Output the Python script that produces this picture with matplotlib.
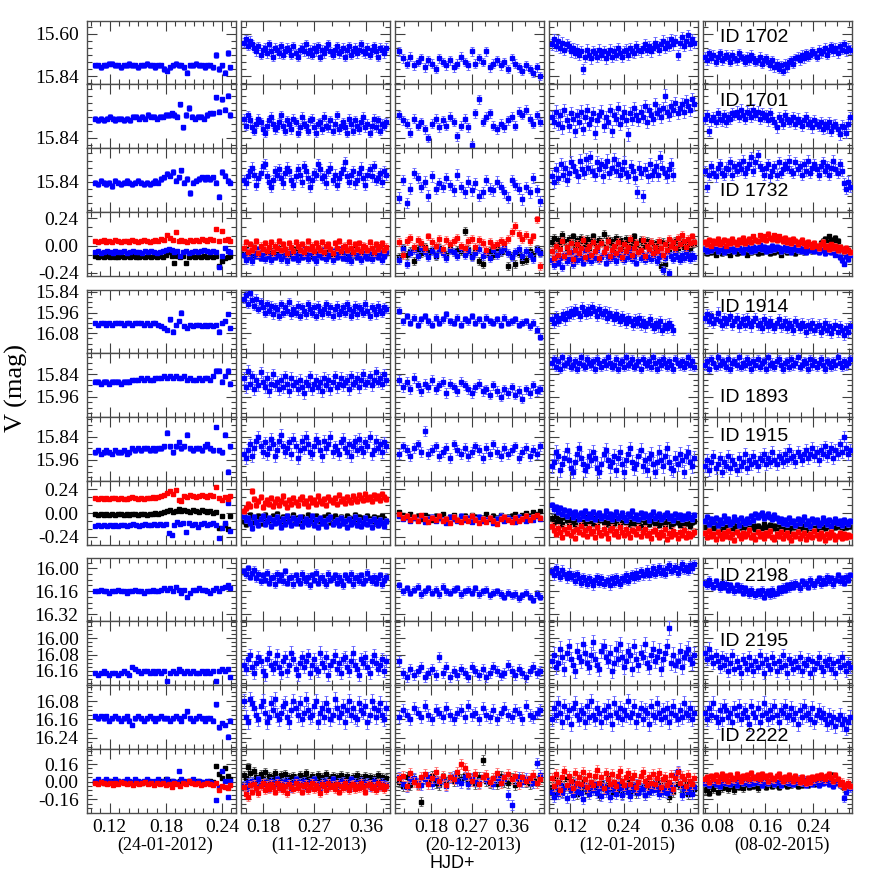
import numpy as np
import matplotlib
matplotlib.use("Agg")
import matplotlib.pyplot as plt
from matplotlib.ticker import FixedLocator, MultipleLocator, FormatStrFormatter, NullFormatter

# ---------------------------------------------------------------- data
DATES = ['(24-01-2012)', '(11-12-2013)', '(20-12-2013)', '(12-01-2015)', '(08-02-2015)']
XTICKS = [[0.12, 0.18, 0.24], [0.18, 0.27, 0.36], [0.18, 0.27, 0.36], [0.12, 0.24, 0.36], [0.08, 0.16, 0.24]]
T0 = [0.104, 0.147, 0.109, 0.080, 0.060]
T1 = [0.249, 0.395, 0.424, 0.398, 0.302]
T1_SHORT = 0.351   # night 4 ends earlier for ID 1732 / ID 1914

# light curves: base magnitude + deviations in 0.01 mag (one list per night)
ID1702_BASE = [15.78, 15.69, 15.76, 15.70, 15.73]
ID1702_ERR = [0.015, 0.025, 0.025, 0.03, 0.025]
ID1702 = [
    [0,0,1,0,0,-1,-1,0,0,1,0,0,-1,0,0,1,0,0,-1,0,0,1,0,0,2,3,1,0,-1,0,0,1,4,0,0,-1,0,0,1,0,0,1,-6,2,0,4,-7,1],
    [-4,-6,-2,-5,-3,-1,1,-2,3,0,-1,2,-3,1,4,-1,0,2,-2,3,1,-1,0,3,-2,2,4,0,-1,1,-3,2,0,3,-1,1,-2,4,0,2,-1,-3,1,3,0,-2,2,1,-1,4,0,-2,3,1,-1,2,0,-3,1,2,-1,3,0,-2,1,4,-1,0,2,-1],
    [-6,-2,1,-3,2,0,-2,3,-1,1,4,-2,0,2,-1,3,1,-3,0,2,-6,1,-2,0,-6,3,1,-1,2,0,4,-2,1,3,5,2,4,6,3,8],
    [-4,-7,-3,-6,-2,-5,-1,-4,-3,0,-2,1,-1,2,0,10,3,-1,2,4,0,1,3,-1,2,0,4,1,-1,3,0,2,-2,1,3,0,-1,2,-2,0,1,-3,-1,0,-2,-4,-1,-3,0,-2,-5,-3,-1,-4,-6,-2,-5,-3,-7,-4,-6,2,-5,-8,-3,-6,-9,-4,-7,-5],
    [0,2,-2,1,-1,3,0,-2,2,1,-1,0,3,-1,1,2,-2,0,1,3,0,2,-1,1,3,2,0,4,2,1,3,5,2,6,4,7,5,8,4,6,3,2,4,1,0,2,-1,1,-2,0,-1,-3,-2,0,-4,-2,-3,-5,-1,-4,-6,-3,-5,-2,-6,-4,-7,-3,-5,-4],
]
ID1701_BASE = [15.73, 15.76, 15.74, 15.71, 15.73]
ID1701_ERR = [0.015, 0.025, 0.025, 0.035, 0.03]
ID1701 = [
    [0,1,0,1,0,-1,0,1,0,0,1,0,1,-1,-1,0,-1,0,-2,-1,-1,0,-1,-1,-2,-2,-3,-2,-1,-8,5,-2,-6,-1,0,-1,-1,0,-2,-3,-3,-12,-4,-11,-5,-13,-2],
    [-3,1,-5,-2,2,4,0,-3,-1,3,5,1,-2,-4,0,3,2,-1,-5,1,4,-2,0,3,-3,-1,5,2,-4,0,1,4,-2,-3,2,5,0,-1,3,-4,1,2,-2,4,0,-5,3,1,-1,2,5,-3,0,4,-2,1,3,-1,-4,2,0,5,1,-3,2,-2,4,0,1,-1],
    [-3,0,2,7,-1,3,1,5,10,2,-1,4,0,3,-2,1,9,3,-1,4,14,-4,-12,1,-2,-4,3,5,2,4,0,-2,3,-5,-3,-6,-1,2,-3,1],
    [1,4,-2,5,0,7,-3,3,6,-1,2,9,0,4,-2,8,1,-3,5,2,-1,10,3,0,-2,6,1,4,-3,9,0,2,-4,5,1,-2,3,11,-1,2,-4,0,3,-2,1,-5,4,-3,0,2,-6,-1,-3,1,-4,-11,-2,0,-5,-3,-7,-1,-4,-6,-2,-8,-5,-3,-9,-6],
    [0,-2,7,1,-1,2,-3,0,1,-2,2,-1,0,-3,-2,-4,-1,-5,-2,0,-4,-3,-1,-5,-2,-4,0,-3,-1,-2,1,-3,0,2,5,-1,1,3,-2,0,2,1,-1,3,0,2,4,1,-1,3,2,5,1,3,4,2,6,3,5,2,7,4,3,6,9,4,5,8,3,-1],
]
ID1732_BASE = [15.845, 15.80, 15.85, 15.76, 15.77]
ID1732_ERR = [0.015, 0.03, 0.03, 0.035, 0.03]
ID1732 = [
    [0,1,-1,0,1,0,2,-1,0,1,0,-1,0,1,0,-1,0,1,0,1,0,-1,0,-2,-3,-5,-4,-6,-1,-3,-7,0,-2,6,0,-1,-2,-3,-2,-3,-2,-3,0,8,-6,-4,-1,0],
    [3,5,1,-2,-4,0,6,2,-1,-5,-6,1,4,7,3,-2,0,-3,2,5,-1,-4,-2,3,6,1,-3,0,4,-5,-2,2,7,3,-1,0,-6,-3,2,1,5,-2,-4,3,0,6,2,-1,-3,-7,1,4,0,-2,5,3,-1,-4,2,6,0,-3,1,-5,3,2,-1,4,-2,0],
    [8,-2,11,3,-6,-3,2,-1,7,-4,3,0,2,-3,1,4,-5,2,5,-1,4,0,7,5,-2,3,4,-1,2,5,8,-2,1,3,9,2,5,-3,4,10],
    [5,8,1,6,-2,4,0,7,3,-3,-1,2,5,-4,1,3,-5,0,-6,2,4,-3,1,-2,5,-1,-4,3,0,-5,2,-2,4,1,-3,3,5,-1,2,6,14,0,3,16,1,5,-2,4,2,-1,4,-6,0,3,5,1,-2,4],
    [1,10,3,-2,2,4,-1,-3,2,3,-1,0,-4,3,-2,1,-3,0,-5,2,-1,-3,-7,1,-4,-8,-2,0,3,-1,-3,4,1,-2,3,-4,2,0,-3,-1,-5,1,2,-4,0,-2,3,-3,1,-5,2,-1,-3,0,3,-2,-4,1,-2,3,-1,-5,0,2,-3,1,8,11,7,10],
]
ID1914_BASE = [16.02, 15.94, 16.00, 16.00, 16.02]
ID1914_ERR = [0.012, 0.025, 0.02, 0.03, 0.03]
ID1914 = [
    [0,1,0,0,1,0,1,0,0,0,1,0,0,1,0,0,0,1,0,1,0,0,1,2,3,4,-2,5,1,-1,-6,2,3,1,2,1,1,2,1,2,1,2,1,5,0,-1,-5,3],
    [-6,-8,-3,-9,-5,-2,-6,0,-4,-1,2,-3,1,-2,3,-1,0,4,-3,2,-1,1,-4,3,0,2,-2,4,-1,1,3,-3,0,2,-1,4,-2,1,3,0,-3,2,-1,4,0,-2,3,1,-1,2,-3,0,4,1,-2,3,-1,0,2,-3,1,4,-1,0,3,-2,1,2,-1,0],
    [-5,1,-2,2,-1,3,0,-2,1,3,-1,2,0,-3,1,2,-1,3,0,1,-2,2,0,3,-1,1,2,0,3,-1,2,1,0,3,2,1,4,2,6,10],
    [0,2,-2,1,-1,-3,0,-4,-2,-5,-3,-6,-4,-2,-7,-5,-3,-6,-4,-7,-5,-2,-6,-4,-3,-5,-1,-4,-2,0,-3,-1,1,-2,0,2,-1,1,3,0,2,-1,3,1,4,2,0,3,5,2,4,1,6,3,5,2,4,6],
    [-3,-5,-1,-4,0,-2,-6,-1,1,-3,0,-2,-4,1,-1,-3,2,0,-2,1,-3,0,2,-1,-3,1,0,3,-2,0,2,-1,1,3,0,-2,2,1,-1,3,0,2,4,-1,1,3,0,2,5,1,3,0,4,2,1,5,3,0,4,2,6,3,1,5,2,4,7,3,5,2],
]
ID1893_BASE = [15.88, 15.88, 15.90, 15.78, 15.78]
ID1893_ERR = [0.012, 0.03, 0.025, 0.025, 0.025]
ID1893 = [
    [0,0,1,0,0,1,0,0,0,1,0,0,0,-1,-1,-1,-2,-1,-2,-1,-1,-2,-2,-2,-3,-2,-3,-2,-3,-2,-2,-3,-1,-2,-1,-1,-2,-1,-2,-2,-1,-3,-6,-6,0,-3,-6,1],
    [-2,3,-6,1,-3,4,-1,2,-5,0,3,-2,5,1,-4,2,0,4,-1,3,-3,1,5,-2,2,0,4,-1,3,6,0,2,-3,4,1,-1,3,0,5,-2,2,-1,4,0,-3,3,1,-2,2,0,-1,4,-3,1,0,-2,3,-1,-4,1,0,-3,2,-1,-5,0,-2,1,-4,-1],
    [-3,1,-2,2,-4,0,3,-1,1,-3,2,0,-2,4,-1,1,3,-2,0,2,4,1,-1,3,2,5,0,3,6,2,4,1,5,3,7,2,4,0,3,2],
    [0,-2,2,-1,3,-3,1,0,-2,2,1,-1,3,0,-3,1,2,-2,0,1,-1,3,-2,0,2,-1,1,-3,0,2,1,-2,3,0,-1,2,-3,1,0,-2,2,1,-1,3,-2,0,1,-1,2,-3,0,3,-1,1,-2,0,2,-1,1,3,-2,0,1,-1,2,0,-3,1,-1,2],
    [1,-1,3,-2,0,2,-3,1,-1,0,2,-2,3,0,-1,1,-3,2,0,1,-2,0,3,-1,1,-2,2,0,-1,3,-3,1,0,2,-1,-2,1,3,0,-1,2,-2,1,0,-3,2,1,-1,0,3,-2,1,-1,2,0,-2,1,3,-1,0,2,-1,1,-3,0,2,-1,1,0,-2],
]
ID1915_BASE = [15.91, 15.89, 15.91, 15.96, 15.96]
ID1915_ERR = [0.012, 0.03, 0.025, 0.035, 0.03]
ID1915 = [
    [1,0,2,1,0,1,2,0,1,1,0,2,1,-1,0,-1,0,-1,-1,0,-1,0,-1,-1,-2,-9,-2,1,-2,-4,-1,-2,-8,-1,0,-1,-1,0,-2,-3,-1,0,-12,0,1,-8,11,-2],
    [4,6,2,-1,5,1,-3,-5,0,3,-2,4,1,-4,-1,5,2,-3,-6,0,3,1,-2,4,-4,0,6,2,-3,1,-5,-1,3,4,0,-4,-2,2,5,-3,1,-1,-5,3,0,2,4,-2,-4,1,3,-1,5,0,-3,2,-4,1,3,-2,0,-5,4,2,-3,1,-1,3,-2,0],
    [2,-2,0,3,-1,-3,1,-10,2,0,-2,3,1,-1,4,-3,0,2,-1,3,1,-2,0,4,-1,2,-3,1,3,-1,2,0,-2,4,1,-1,3,0,2,-2],
    [3,1,-4,-2,5,2,-1,-5,0,4,6,1,-3,-6,-1,2,5,3,-2,0,-4,-1,4,6,2,-3,-5,0,3,1,-2,5,-1,-4,2,6,0,-3,-6,1,4,2,-2,-5,3,0,5,-1,-3,2,6,1,-4,0,3,-2,-6,1,4,5,-1,2,-3,0,6,-2,-4,1,3,-1],
    [3,0,5,1,-2,4,2,-1,6,1,3,-2,4,0,2,5,-1,3,1,-3,4,0,2,-2,1,3,-1,0,-3,2,-1,1,-4,0,2,-2,-1,1,-3,0,-5,-1,-2,1,-4,-2,0,-3,-5,-1,-3,-6,-2,-4,0,-5,-3,-7,-2,-4,-6,-1,-5,-3,-8,-4,-12,-6,-3,-5],
]
ID2198_BASE = [16.16, 16.07, 16.15, 16.06, 16.13]
ID2198_ERR = [0.012, 0.025, 0.025, 0.03, 0.025]
ID2198 = [
    [0,0,-1,0,0,1,0,0,-1,0,0,1,0,0,-1,0,0,1,0,0,-1,0,0,-1,-2,-1,-2,0,-3,-1,1,-1,4,1,-1,-1,-2,-1,-1,0,1,-1,-2,0,-2,-3,-4,-2],
    [-5,-3,-7,-1,-4,-6,0,-3,2,-2,1,-4,3,0,-1,4,-3,1,-2,2,-5,3,0,-1,4,-2,1,3,-3,0,2,-1,5,-2,1,-4,3,0,-1,2,4,-3,1,0,-2,3,-1,2,5,-2,0,1,-3,4,0,-1,2,-2,3,1,-4,0,2,-1,3,0,-2,4,1,-1],
    [-3,1,-1,2,0,-2,3,1,-1,2,0,3,-2,1,2,0,-1,3,1,0,2,-1,3,1,0,4,2,1,3,5,2,4,3,6,4,2,5,7,3,5],
    [-4,-1,-6,-3,0,-5,-2,1,-3,0,-1,3,-2,1,4,0,2,5,1,3,6,2,0,4,1,5,3,2,6,1,4,0,3,5,1,2,-1,3,0,-2,1,-3,0,-4,-1,-2,-5,-1,-3,-6,-2,-4,-7,-3,-5,-2,-6,-8,-4,-5,-7,-3,-6,-9,-5,-7,-4,-8,-6,-9],
    [-3,-1,-5,-2,0,-4,-1,1,-3,0,-2,2,-1,1,3,-1,2,0,4,1,3,5,2,4,6,3,5,2,7,4,3,6,2,5,4,1,3,0,2,-1,1,-2,0,-3,-1,1,-4,-2,-3,0,-5,-3,-1,-4,-6,-2,-5,-3,-7,-4,-6,-2,-5,-8,-4,-6,-3,-7,-5,-8],
]
ID2195_BASE = [16.17, 16.12, 16.16, 16.09, 16.12]
ID2195_ERR = [0.01, 0.03, 0.025, 0.035, 0.03]
ID2195 = [
    [0,1,0,-1,0,1,0,0,1,0,-1,0,1,-3,-2,-1,0,-1,-1,0,-1,0,-1,0,-1,4,0,-1,0,-2,-1,0,-1,0,-1,0,0,-1,0,-1,0,-1,4,-1,-2,-1,-2,2],
    [1,3,-2,-4,2,5,0,-3,-1,4,6,-2,-5,1,3,0,-4,2,5,-1,-3,4,1,-5,-2,3,6,0,-3,2,-1,-4,5,1,-2,3,4,-5,0,2,-3,6,1,-1,-4,3,0,5,-2,-3,2,4,-1,-5,1,3,6,-2,0,-3,2,5,-1,-4,0,3,1,-2,4,-1],
    [-5,1,3,-1,2,0,-2,3,1,-1,2,-7,1,-2,3,0,2,-1,1,3,-2,0,2,-1,3,1,-2,0,2,1,-3,0,2,-1,1,3,0,-2,1,0],
    [2,-1,5,3,-4,0,6,-2,-5,1,4,7,-3,0,2,-6,-2,3,5,-1,-7,1,4,6,-3,-5,0,2,-2,7,3,-4,1,-6,0,5,2,-3,-1,6,-5,1,4,-2,0,-6,3,5,-1,-4,2,0,-3,6,1,-2,-5,-14,3,-1,4,2,-3,5,0,-2,-4,1,3,-1],
    [-5,-2,-7,-3,0,-4,-1,2,-3,1,-2,4,0,-4,3,-1,2,5,-2,0,3,-3,1,4,-1,2,-4,0,5,-2,1,3,-3,0,4,-1,2,-4,1,5,-2,0,3,-1,2,-3,4,0,1,-2,5,-1,3,0,-3,2,4,-1,1,-2,3,0,5,-1,2,-3,1,4,0,2],
]
ID2222_BASE = [16.155, 16.12, 16.13, 16.13, 16.13]
ID2222_ERR = [0.01, 0.03, 0.025, 0.03, 0.03]
ID2222 = [
    [-1,0,-1,0,-1,1,0,-1,0,1,0,-1,1,3,0,-1,0,1,0,-1,0,1,0,-1,0,0,1,0,-1,0,1,-1,-3,0,1,0,-1,0,1,0,0,1,-6,4,2,3,8,1],
    [-4,3,5,-5,-3,-1,2,4,-2,-4,1,5,3,-3,0,-5,2,4,1,-2,-3,3,5,0,-4,-1,2,-3,4,1,-5,0,3,2,-2,-4,5,1,-1,3,-3,0,4,2,-5,-1,3,1,-2,5,0,-4,2,-1,3,4,-3,0,1,-2,5,2,-4,-1,3,0,-3,2,4,-1],
    [2,-1,1,3,-2,0,2,-3,1,3,-1,0,2,-2,1,3,0,-1,2,-3,1,0,3,-2,1,2,-1,3,0,-2,1,2,-1,0,3,-3,1,2,0,-1],
    [3,-2,1,-4,0,4,-3,2,-1,5,-2,-4,1,3,-1,0,4,-3,2,-5,1,3,-2,0,4,-1,2,-3,1,5,-4,0,2,-2,3,-1,1,-5,2,0,-3,4,1,-2,3,-1,0,5,-3,1,2,-4,0,3,-1,2,-2,4,0,-3,1,3,-1,2,-4,0,1,-2,3,0],
    [0,3,-2,1,-4,2,4,-1,3,-3,-1,2,0,4,-2,1,-3,3,0,-1,2,5,-3,0,2,-2,4,1,-4,0,3,-1,2,-3,1,4,-1,0,-3,2,1,-2,3,0,5,-1,2,-3,1,0,3,-2,4,1,-1,2,0,3,5,1,4,2,6,3,1,5,3,7,4,2],
]

# differential curves (0.01 mag units): red, blue, black per night
DIFF1_RED = [
    [4,3,4,5,3,4,3,5,4,3,4,4,3,5,4,3,4,5,4,3,4,5,4,6,5,9,7,5,12,4,5,4,3,5,4,5,4,6,5,4,6,5,15,4,13,5,6,4],
    [-2,3,-6,1,-4,-1,4,-7,0,-3,2,-5,-1,3,-6,0,-2,4,-4,1,-3,-7,2,-1,-5,3,0,-4,1,-6,-2,4,-3,0,-5,2,-1,-4,3,-6,0,1,-3,-7,2,-2,4,-5,-1,0,-4,3,-2,-6,1,-3,2,-5,0,-1,-4,3,-2,-6,1,-3,0,2,-4,-1],
    [3,-8,4,7,-1,5,2,-2,8,3,0,6,-3,5,1,4,7,0,-2,4,6,-1,5,2,-4,3,0,1,4,2,6,12,17,10,6,9,4,8,23,-18],
    [-5,-11,0,-8,-3,4,-9,-1,-6,2,-12,-4,1,-7,-2,5,-10,-3,0,-8,3,-5,-1,-11,2,-6,-2,4,-9,-4,0,-7,3,-3,-10,1,-5,-1,6,-8,-2,2,-6,-4,5,-9,0,-3,3,-7,-1,-5,4,-2,-8,1,-4,6,0,3,-2,7,1,9,4,-1,6,2,8,3],
    [3,1,5,0,4,2,6,1,3,5,0,4,2,6,3,1,5,3,7,2,4,6,3,8,5,4,9,6,8,5,10,7,6,9,5,8,6,4,7,3,5,2,6,4,1,3,5,2,0,3,1,-1,2,0,-2,1,3,-1,0,-3,1,-2,0,-4,-1,-3,-5,-2,-4,-6],
]
DIFF1_BLUE = [
    [-6,-5,-7,-6,-5,-6,-7,-5,-6,-6,-5,-7,-6,-5,-6,-6,-7,-5,-6,-5,-6,-7,-6,-5,-4,-3,-4,-6,-5,-9,-6,-5,-7,-6,-5,-6,-5,-4,-5,-6,-5,-6,-19,-9,-2,-5,-6],
    [-8,-13,-5,-10,-14,-6,-9,-3,-11,-7,-12,-4,-9,-13,-6,-10,-2,-8,-12,-5,-9,-14,-7,-4,-11,-8,-13,-6,-10,-3,-9,-12,-7,-5,-11,-14,-8,-6,-10,-4,-12,-9,-7,-13,-5,-10,-8,-3,-11,-6,-12,-9,-14,-7,-5,-10,-8,-13,-4,-9,-11,-6,-12,-8,-5,-10,-7,-13,-9,-6],
    [-13,-3,-16,-7,-4,-9,-2,-6,-10,-5,-8,-3,-7,-11,-4,-6,-9,-2,-8,-5,-10,-7,-3,-9,-6,-11,-4,-8,-5,-2,-7,-10,-6,-3,-9,-5,-8,-12,-4,-7],
    [-13,-17,-9,-15,-11,-19,-8,-14,-12,-6,-16,-10,-13,-7,-11,-15,-5,-12,-9,-14,-8,-11,-4,-13,-10,-7,-15,-9,-12,-6,-10,-14,-8,-5,-11,-13,-7,-10,-4,-12,-9,-15,-6,-11,-8,-13,-10,-5,-12,-9,-7,-14,-10,-8,-22,-11,-6,-24,-9,-12,-7,-10,-13,-8,-11,-6,-9,-12,-8,-10],
    [-3,-5,-1,-4,-2,0,-5,-3,-1,-6,-2,-4,0,-3,-5,-1,-2,-4,-6,-2,0,-3,-5,-1,-4,-2,1,-3,-1,-5,-2,-4,0,-3,-1,-2,-5,-3,-1,-4,-2,-6,-3,-1,-4,-2,-5,-3,-6,-2,-4,-1,-5,-3,-6,-4,-2,-7,-5,-3,-6,-4,-8,-5,-10,-13,-16,-9,-12,-8],
]
DIFF1_BLACK = [
    [-9,-10,-9,-10,-9,-10,-9,-10,-10,-9,-10,-9,-10,-9,-10,-10,-9,-10,-9,-10,-9,-10,-9,-10,-8,-6,-9,-15,-9,-10,-9,-15,-10,-9,-10,-9,-10,-9,-10,-9,-10,-9,-18,-14,-11,-10,-9],
    [-7,-3,-10,-5,-8,-2,-9,-6,-11,-4,-7,-9,-3,-8,-5,-10,-6,-2,-9,-7,-4,-11,-6,-8,-3,-9,-5,-7,-10,-4,-8,-6,-2,-9,-5,-11,-7,-3,-8,-6,-10,-4,-7,-9,-5,-3,-8,-6,-11,-7,-4,-9,-5,-8,-2,-10,-6,-7,-3,-9,-5,-8,-11,-4,-6,-9,-3,-7,-8,-5],
    [-10,-2,-8,-5,-14,-3,-7,-1,-6,-4,-9,-2,-5,-8,-3,-6,-4,-5,13,-3,-9,-4,-14,-16,-7,-5,-8,-2,-6,-4,-18,-9,-16,-7,-14,-13,-5,-8,-3,-6],
    [3,7,-1,5,1,9,4,-2,6,2,8,0,5,-1,7,3,1,6,-2,4,8,2,-1,5,3,10,0,6,2,4,-2,7,1,5,3,-1,6,2,0,4,8,1,-3,5,2,0,4,-2,3,1,-4,2,0,-18,3,-16,1,-3,2,0,4,-2,1,3,-1,2,0,-3,1,2],
    [-5,-7,-3,-6,-4,-8,-5,-2,-7,-4,-6,-3,-8,-5,-4,-7,-2,-6,-5,-3,-8,-4,-6,-2,-5,-7,-3,-6,-4,-5,-2,-7,-4,-6,-3,-5,-8,-4,-2,-6,-3,-5,-4,-7,-2,-5,-3,-6,-1,-4,-2,-5,-3,0,-2,2,4,6,3,8,5,2,7,4,-1,-3,-6,-8,-5,-7],
]
DIFF2_RED = [
    [15,14,15,14,15,14,15,15,14,15,14,14,15,16,15,14,15,14,15,15,16,15,16,17,18,20,22,19,23,13,12,17,16,18,17,16,17,18,17,16,18,17,26,15,13,16,14,17],
    [2,5,9,7,22,14,8,12,16,6,10,13,9,15,7,11,14,8,12,17,10,6,13,9,15,11,8,14,16,10,12,7,15,11,13,9,17,12,10,14,8,16,13,11,15,9,18,12,14,10,16,13,11,17,14,12,18,15,13,19,14,16,12,18,15,17,13,19,16,14],
    [-1,-5,-3,-7,-4,-8,-2,-6,-9,-5,-7,-3,-8,-6,-10,-4,-7,-9,-5,-8,-3,-7,-10,-6,-9,-5,-8,-11,-6,-4,-7,-9,-5,-8,-6,-3,-7,-4,-2,-5],
    [-13,-17,-21,-15,-19,-24,-16,-20,-14,-22,-18,-25,-16,-19,-13,-21,-17,-23,-15,-20,-18,-24,-14,-19,-22,-16,-20,-25,-17,-15,-21,-18,-23,-14,-19,-22,-16,-20,-24,-17,-18,-21,-15,-23,-19,-16,-22,-20,-25,-18,-17,-21,-24,-19,-22,-16,-26,-20,-23,-18,-21,-25,-19,-22,-17,-24,-20,-23,-21,-19],
    [-20,-24,-18,-23,-21,-26,-19,-22,-25,-20,-23,-18,-24,-21,-27,-19,-22,-25,-20,-23,-21,-17,-24,-22,-26,-19,-23,-21,-25,-20,-22,-18,-24,-26,-21,-23,-19,-25,-22,-20,-24,-27,-21,-23,-19,-25,-22,-20,-26,-23,-21,-24,-18,-22,-25,-20,-23,-27,-21,-24,-19,-22,-26,-23,-20,-25,-21,-24,-22,-23],
]
DIFF2_BLUE = [
    [-13,-12,-13,-12,-13,-12,-13,-12,-13,-12,-12,-13,-12,-11,-12,-13,-12,-11,-12,-12,-11,-12,-11,-12,-11,-20,-22,-12,-9,-11,-10,-19,-10,-12,-11,-14,-11,-10,-12,-11,-10,-12,-25,-15,-10,10,-18],
    [-3,-7,-5,-10,-15,-4,-9,-12,-6,-3,-11,-8,-5,-13,-7,-10,-4,-9,-14,-6,-11,-3,-8,-12,-5,-10,-7,-4,-13,-9,-6,-11,-8,-3,-12,-7,-14,-5,-10,-8,-13,-6,-4,-11,-9,-7,-12,-5,-10,-8,-14,-6,-11,-9,-4,-12,-7,-13,-10,-5,-11,-8,-14,-6,-9,-12,-7,-10,-13,-8],
    [-3,-6,-4,-8,-5,-7,-3,-9,-6,-4,-8,-5,-7,-10,-4,-6,-8,-3,-7,-5,-9,-6,-4,-8,-7,-5,-10,-6,-3,-8,-5,-7,-9,-4,-6,-8,-5,-7,-3,-6],
    [8,4,6,1,5,-1,3,-3,2,0,-4,1,-2,-6,0,-3,2,-5,-1,-4,1,-6,-2,0,-5,-3,2,-4,-1,-6,-2,1,-5,-3,0,-4,-7,-1,-3,2,-5,-2,-6,0,-4,-1,-3,-7,-2,1,-5,-3,-1,-6,-4,-2,0,-5,-3,-7,-1,-4,-2,-6,-3,-5,-1,-4,-6,-2],
    [-8,-4,-11,-6,-9,-5,-12,-7,-10,-3,-8,-6,-11,-9,-4,-7,-12,-5,-8,-10,-6,-9,-3,-7,-1,-4,-2,0,-5,-3,-1,-4,-6,-2,-5,-8,-6,-10,-7,-11,-5,-9,-8,-12,-6,-10,-7,-4,-11,-8,-13,-6,-9,-7,-12,-10,-5,-8,-11,-7,-13,-9,-6,-10,-8,-12,-7,-9,-11,-8],
]
DIFF2_BLACK = [
    [-1,-2,-1,-2,-1,-2,-1,-2,-1,-1,-2,-1,-2,-1,-1,-2,-1,-1,-2,-1,-1,0,-1,0,1,2,3,1,2,4,2,3,2,1,3,2,1,3,2,1,2,0,1,-15,-3,-12,-16,-3],
    [-8,-11,-5,-2,-9,-4,-7,-3,-10,-6,-2,-8,-5,-9,-3,-7,-1,-6,-10,-4,-8,-3,-6,-9,-2,-7,-5,-10,-4,-8,-6,-2,-9,-5,-7,-3,-8,-6,-10,-4,-7,-2,-9,-5,-3,-8,-6,-4,-10,-7,-3,-5,-9,-6,-2,-8,-4,-7,-5,-9,-3,-6,-8,-4,-10,-5,-7,-3,-6,-8],
    [1,-2,-4,-1,-5,-3,-6,-2,-4,-7,-3,-5,-1,-6,-4,-2,-7,-5,-3,-6,-2,-4,-7,-5,-1,-6,-3,-5,-2,-7,-4,-3,-1,-5,-2,0,-3,1,-1,2],
    [-5,-9,-3,-8,-6,-11,-4,-7,-10,-5,-8,-12,-6,-3,-9,-7,-11,-4,-8,-6,-10,-5,-13,-7,-4,-9,-6,-11,-8,-3,-10,-7,-5,-12,-8,-6,-9,-4,-11,-7,-10,-5,-8,-13,-6,-9,-7,-11,-4,-8,-10,-6,-12,-9,-5,-11,-8,-7,-13,-10,-6,-9,-12,-8,-11,-7,-10,-13,-9,-8],
    [-14,-11,-17,-13,-15,-10,-16,-12,-18,-14,-11,-15,-13,-17,-12,-16,-14,-10,-15,-13,-11,-17,-14,-12,-16,-13,-18,-15,-11,-14,-16,-12,-15,-13,-17,-11,-14,-16,-12,-15,-18,-13,-14,-11,-16,-13,-15,-12,-17,-14,-11,-15,-13,-16,-12,-14,-10,-15,-13,-11,-16,-12,-14,-13,-10,-15,-12,-14,-11,-13],
]
DIFF3_RED = [
    [-1,-2,0,-1,-2,-1,-3,-1,-2,0,-1,-2,-1,-3,-1,-2,-1,0,-2,-1,-3,-1,-2,-1,-3,-2,-5,-1,-2,-4,-1,-2,1,-1,-2,-1,-3,-2,-1,-2,-3,-1,-8,-4,-5,-6,-3],
    [-5,-11,-14,-3,-9,-2,-6,-10,-4,-1,-8,-3,-7,-2,-5,-9,-1,-6,-3,-8,-4,-10,-2,-5,-7,-1,-6,-3,-9,-4,-2,-8,-5,-1,-7,-3,-6,-10,-2,-4,-8,-1,-5,-3,-7,-2,-9,-4,-6,-1,-5,-8,-3,-2,-7,-4,-6,-1,-5,-9,-3,-2,-6,-4,-8,-1,-5,-3,-7,-4],
    [3,5,-4,8,0,-3,4,7,-2,3,9,1,5,-3,4,2,9,16,12,6,1,7,-2,4,6,0,3,8,-1,4,7,2,5,-2,4,1,3,6,-1,2],
    [3,-4,7,0,-8,4,10,-3,5,1,-6,8,-1,4,-2,9,2,-5,6,0,-3,5,11,-1,4,-6,8,2,-2,7,0,-4,5,10,1,-3,4,8,-2,3,6,-5,0,5,9,1,-3,4,-1,7,-2,3,8,-5,2,4,-3,0,6,-7,3,9,-1,5,2,-4,6,1,-2,3],
    [2,4,0,5,2,6,1,4,7,2,5,1,6,3,2,7,4,1,5,3,6,2,8,4,3,6,2,7,4,5,1,6,3,2,5,7,3,1,4,2,6,3,1,5,2,0,4,1,-1,3,0,4,2,5,3,6,4,2,5,7,3,1,6,2,-2,0,-5,-3,-1,-4],
]
DIFF3_BLUE = [
    [1,2,0,1,2,1,0,2,1,0,1,2,1,0,2,1,0,1,2,1,0,1,2,0,1,2,-1,1,0,10,2,1,0,1,2,0,1,0,-1,1,0,-1,-17,-5,10,1,-14,1],
    [-3,-7,0,-4,1,-2,-5,2,-1,-4,0,-3,-6,1,-2,-4,2,-1,-5,0,-3,1,-2,-6,-1,2,-4,0,-3,1,-5,-2,0,-4,2,-1,-3,-6,0,-2,1,-4,-1,2,-3,-5,0,-2,1,-4,-1,-3,2,-5,0,-2,-4,1,-1,-3,0,-5,-2,1,-3,-1,-4,0,-2,-3],
    [4,-2,-5,2,3,-1,-3,2,4,-2,3,0,2,-4,3,5,1,-1,4,-2,3,1,-1,4,2,0,-2,3,1,2,-12,-21,2,4,0,3,1,-1,17,6],
    [-9,-14,-5,-11,-3,-10,-6,-15,-4,-8,-12,-2,-9,-5,-10,-16,-3,-7,-11,-4,-8,-1,-10,-6,-13,-3,-9,-7,-14,-4,-8,-11,-2,-6,-12,-7,-3,-9,-13,-5,-8,-2,-10,-6,-7,-12,-3,-9,-5,-8,-1,-7,-11,-4,-9,-6,-10,-3,-8,-5,6,10,-2,-12,-7,-4,-9,-6,-11,-5],
    [-1,2,-3,0,3,-2,1,-4,0,2,-1,3,-2,0,1,-3,2,1,-1,3,0,-2,2,-1,4,0,1,-3,2,0,-1,3,1,-2,0,2,-3,1,3,0,-1,2,-2,1,0,3,-1,2,-3,0,1,-2,2,0,-3,1,-1,2,0,-2,1,-4,-1,0,-3,-2,-15,-9,-4,-6],
]
DIFF3_BLACK = [
    [0,1,0,-1,0,1,0,-1,1,0,0,1,-1,0,1,0,-1,0,1,0,-1,0,1,0,2,0,1,-1,0,1,0,-1,1,0,-1,1,0,-1,0,1,0,14,7,3,12,5,2],
    [6,3,13,8,1,10,4,0,7,2,9,-1,5,1,4,8,0,3,6,-1,7,2,4,0,5,3,-2,6,1,4,8,2,-1,5,3,0,6,2,4,-1,7,1,3,5,-2,4,2,6,0,3,5,1,-1,4,2,6,0,3,1,5,-2,4,2,3,0,6,1,4,2,3],
    [0,-4,4,-3,2,-2,-18,3,1,5,-1,-3,3,0,4,1,5,2,6,-1,2,-2,4,20,1,-1,3,-2,5,0,-1,3,-3,2,4,0,-2,3,1,2],
    [-5,-11,3,-7,-1,-9,-4,2,-6,-8,0,-5,-11,-2,-7,1,-4,-9,-6,0,-8,-2,-5,-12,-1,-7,-3,3,-6,-10,0,-4,-8,-1,-11,-3,-6,2,-9,-2,-5,-10,0,-7,-4,-12,-1,-6,-8,-2,-5,1,-7,-3,-9,0,-6,-14,-3,-9,6,-2,-5,-4,-8,-2,-11,-6,-4,-7],
    [-8,-6,-10,-4,-7,-3,-9,-2,-6,-5,-1,-7,-4,-3,-8,-1,-5,-3,-6,-2,0,-5,-1,-4,-2,-6,0,-3,-1,-5,-2,1,-4,-1,-3,-5,0,-2,-1,-4,0,-3,1,-2,-4,0,-3,-1,1,-3,0,2,-2,0,-1,3,1,4,2,5,3,6,4,1,-2,-4,-6,-3,-5,-4],
]
DIFF_ERR = [[0.012, 0.03, 0.035, 0.035, 0.025],
            [0.012, 0.03, 0.025, 0.035, 0.03],
            [0.012, 0.035, 0.045, 0.045, 0.03]]

STAR_ROWS = [("ID 1702", ID1702, ID1702_BASE, ID1702_ERR),
             ("ID 1701", ID1701, ID1701_BASE, ID1701_ERR),
             ("ID 1732", ID1732, ID1732_BASE, ID1732_ERR),
             ("ID 1914", ID1914, ID1914_BASE, ID1914_ERR),
             ("ID 1893", ID1893, ID1893_BASE, ID1893_ERR),
             ("ID 1915", ID1915, ID1915_BASE, ID1915_ERR),
             ("ID 2198", ID2198, ID2198_BASE, ID2198_ERR),
             ("ID 2195", ID2195, ID2195_BASE, ID2195_ERR),
             ("ID 2222", ID2222, ID2222_BASE, ID2222_ERR)]
DIFF_ROWS = [(DIFF1_RED, DIFF1_BLUE, DIFF1_BLACK),
             (DIFF2_RED, DIFF2_BLUE, DIFF2_BLACK),
             (DIFF3_RED, DIFF3_BLUE, DIFF3_BLACK)]

# y axis: (bottom value, top value), labelled ticks, minor step
YAX = [((15.885, 15.528), [15.60, 15.84], 0.04),
       ((15.897, 15.534), [15.84], 0.04),
       ((16.012, 15.649), [15.84], 0.04),
       ((-0.269, 0.296), [0.24, 0.00, -0.24], 0.08),
       ((16.194, 15.830), [15.84, 15.96, 16.08], 0.03),
       ((16.069, 15.726), [15.84, 15.96], 0.03),
       ((16.068, 15.739), [15.84, 15.96], 0.03),
       ((-0.324, 0.324), [0.24, 0.00, -0.24], 0.08),
       ((16.369, 15.928), [16.00, 16.16, 16.32], 0.04),
       ((16.229, 15.915), [16.00, 16.08, 16.16], 0.02),
       ((16.289, 16.010), [16.08, 16.16, 16.24], 0.02),
       ((-0.284, 0.296), [0.16, 0.00, -0.16], 0.04)]
XLIM = [(0.0956, 0.2549), (0.1416, 0.402), (0.099, 0.432), (0.073, 0.407), (0.0567, 0.305)]
XMINOR = [0.01, 0.03, 0.03, 0.03, 0.02]

# ---------------------------------------------------------------- layout
W = H = 872.0
COL_L = [87, 241, 395, 549, 703]
COL_R = [236, 390, 544, 698, 852]
ROW_T = [21, 84, 148, 212, 290, 353, 417, 481, 558, 621, 685, 749]
ROW_B = [84, 148, 212, 276, 353, 417, 481, 545, 621, 685, 749, 813]
LABEL_Y = [37, 101, 192, 307, 397, 436, 576, 641, 736]

SERIF = ['Liberation Serif', 'DejaVu Serif']
SANS = ['Liberation Sans', 'DejaVu Sans']
plt.rcParams['font.family'] = SERIF
plt.rcParams['axes.unicode_minus'] = True

BLUE = ('#0000ff', '#5c5cff')
RED = ('#ff0000', '#ff6a6a')
BLACK = ('#000000', '#555555')

fig = plt.figure(figsize=(8.72, 8.72), dpi=100)


def draw(ax, x, y, err, colors, z):
    ax.errorbar(x, y, yerr=err, fmt='s', ms=2.4, mfc=colors[0], mec=colors[0],
                ecolor=colors[1], elinewidth=0.7, capsize=1.5, capthick=0.6,
                zorder=z)


def times(c, n, short=False):
    return np.linspace(T0[c], T1_SHORT if short else T1[c], n)


for r in range(12):
    for c in range(5):
        ax = fig.add_axes([COL_L[c] / W, 1 - ROW_B[r] / H,
                           (COL_R[c] - COL_L[c]) / W, (ROW_B[r] - ROW_T[r]) / H])
        grp, sub = divmod(r, 4)
        if sub < 3:
            name, vals, base, err = STAR_ROWS[grp * 3 + sub][:4]
            v = np.asarray(vals[c], float)
            short = (c == 3 and (r == 2 or r == 4))
            draw(ax, times(c, len(v), short), base[c] + 0.01 * v, err[c], BLUE, 3)
        else:
            red, blue, black = DIFF_ROWS[grp]
            e = DIFF_ERR[grp][c]
            for series, col, z in ((black, BLACK, 2), (blue, BLUE, 3), (red, RED, 4)):
                v = np.asarray(series[c], float)
                draw(ax, times(c, len(v)), 0.01 * v, e, col, z)

        (yb, yt), yt_lab, ymin = YAX[r]
        ax.set_ylim(yb, yt)
        ax.set_xlim(*XLIM[c])
        ax.yaxis.set_major_locator(FixedLocator(yt_lab))
        ax.yaxis.set_minor_locator(MultipleLocator(ymin))
        ax.xaxis.set_major_locator(FixedLocator(XTICKS[c]))
        ax.xaxis.set_minor_locator(MultipleLocator(XMINOR[c]))
        ax.yaxis.set_major_formatter(FormatStrFormatter('%.2f'))
        ax.xaxis.set_major_formatter(FormatStrFormatter('%.2f'))
        ax.tick_params(which='both', direction='in', top=True, right=True,
                       color='0.25', width=0.8)
        ax.tick_params(which='major', length=7, labelsize=14, pad=6)
        ax.tick_params(axis='x', which='major', pad=4)
        ax.tick_params(which='minor', length=3.5)
        if c != 0:
            ax.yaxis.set_major_formatter(NullFormatter())
        if r != 11:
            ax.xaxis.set_major_formatter(NullFormatter())
        for s in ax.spines.values():
            s.set_color('0.3')
            s.set_linewidth(1.0)

# star identifiers
for (name, *_), yl in zip(STAR_ROWS, LABEL_Y):
    fig.text(720 / W, 1 - yl / H, name, ha='left', va='center', fontsize=14,
             family=SANS, zorder=10)

# night dates
for c in range(5):
    fig.text(((COL_L[c] + COL_R[c]) / 2 + 4) / W, 1 - 849.5 / H, DATES[c],
             ha='center', va='baseline', fontsize=13)

fig.text(16 / W, 1 - 388 / H, 'V (mag)', rotation=90, ha='center', va='center',
         fontsize=19)
fig.text(452 / W, 1 - 867.5 / H, 'HJD+', ha='center', va='baseline', fontsize=13,
         family=SANS)

fig.savefig('out.png', dpi=100)
